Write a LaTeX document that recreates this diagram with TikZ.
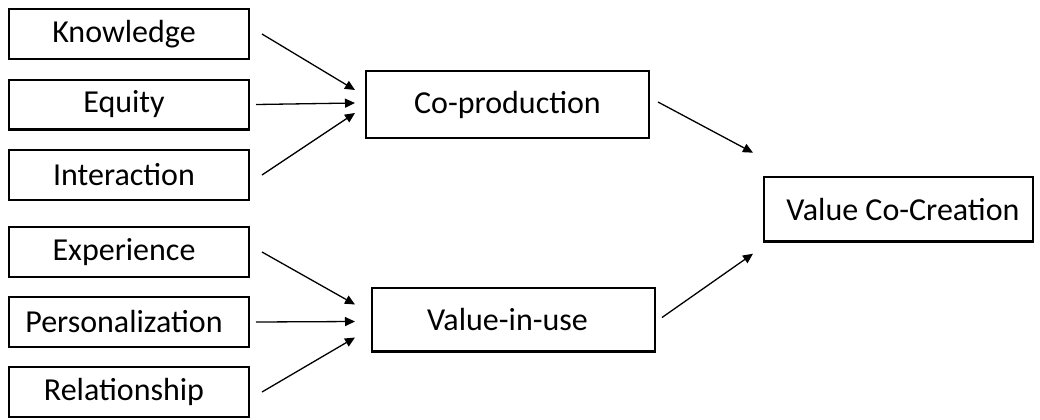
\documentclass[tikz,border=0pt]{standalone}
\usepackage{fontspec}
\setmainfont{Carlito}
\usepackage{tikz}
\usetikzlibrary{arrows.meta, positioning, calc}

\begin{document}
\begin{tikzpicture}[
  node distance=9.25pt and 57.5pt,
  box/.style={draw=black, line width=1.2pt, fill=white,
              minimum width=119.8pt, minimum height=24.8pt, inner sep=2pt,
              font=\fontsize{16pt}{19pt}\selectfont},
  nudge/.style={execute at end node={\hspace*{#1}}},
  inbox/.style={box, nudge=5pt},
  midbox/.style={box, minimum width=141.3pt, minimum height=33.3pt},
  endbox/.style={box, minimum width=134.3pt, minimum height=32.3pt},
  arr/.style={-{Triangle[length=5pt, width=4.5pt]}, line width=0.65pt}
]
  \useasboundingbox (-64.5pt,-192.5pt) rectangle (455.5pt,17pt);

  \node[inbox] (knw) {Knowledge};
  \node[inbox, below=of knw] (eqt) {Equity};
  \node[inbox, below=of eqt] (itr) {Interaction};
  \node[inbox, below=12.5pt of itr] (exp) {Experience};
  \node[inbox, below=9pt of exp] (per) {Personalization};
  \node[inbox, below=9pt of per] (rel) {Relationship};

  \node[midbox, right=of eqt] (cop) {Co-production};
  \node[midbox, right=60.5pt of per, yshift=1.25pt, minimum height=31.8pt, nudge=6pt] (viu) {Value-in-use};
  \node[endbox, anchor=west, nudge=-4.5pt] (vcc)
        at ($(cop.east)!0.5!(viu.east)+(55pt,1.4pt)$) {Value Co-Creation};

  \draw[arr] ([xshift=6pt]knw.east) -- ([xshift=-5pt, yshift=7.25pt]cop.west);
  \draw[arr] ([xshift=3pt]eqt.east) -- ([xshift=-5pt, yshift=0.75pt]cop.west);
  \draw[arr] ([xshift=6pt]itr.east) -- ([xshift=-5pt, yshift=-4.25pt]cop.west);

  \draw[arr] ([xshift=6pt]exp.east) -- ([xshift=-8pt, yshift=7.5pt]viu.west);
  \draw[arr] ([xshift=3pt]per.east) -- ([xshift=-8pt, yshift=-1pt]viu.west);
  \draw[arr] ([xshift=6pt]rel.east) -- ([xshift=-8pt, yshift=-9pt]viu.west);

  \draw[arr] ([xshift=4pt, yshift=1.25pt]cop.east) -- ([xshift=-5pt, yshift=28.25pt]vcc.west);
  \draw[arr] ([xshift=3pt, yshift=1pt]viu.east) -- ([xshift=-5pt, yshift=-22.25pt]vcc.west);
\end{tikzpicture}
\end{document}
